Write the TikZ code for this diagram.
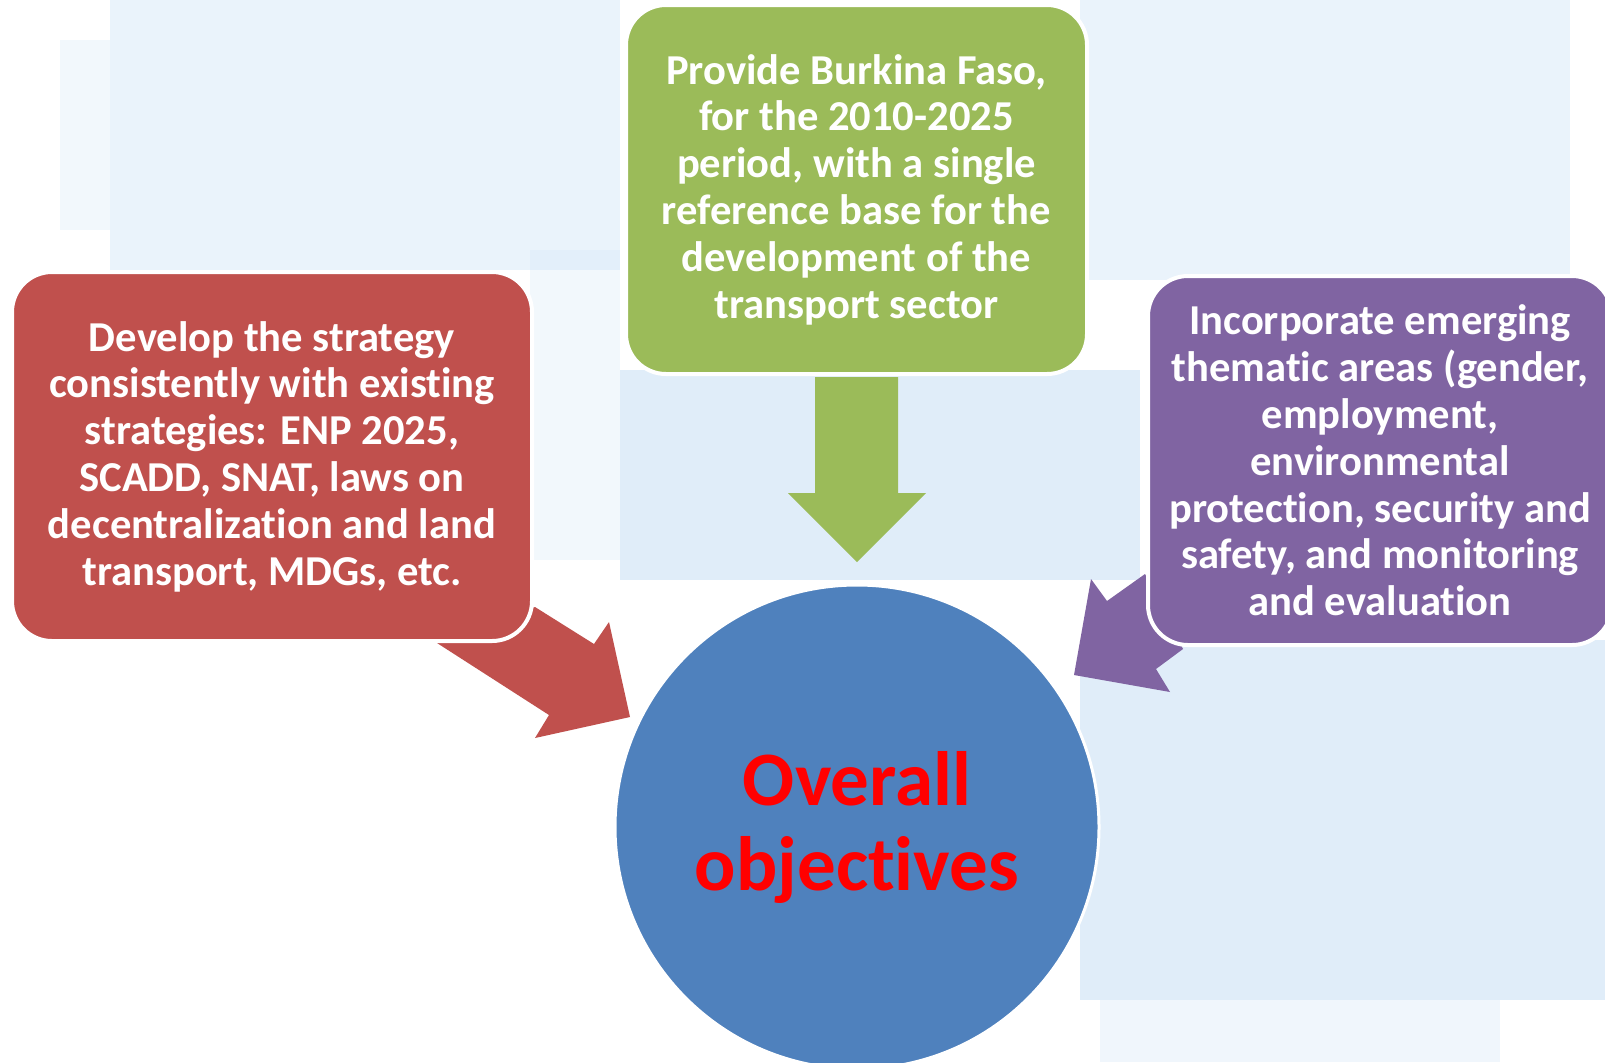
\documentclass[tikz,border=0pt]{standalone}
\usepackage{fontspec}
\setmainfont[Ligatures={NoCommon,NoContextual}]{Carlito}
\definecolor{boxred}{HTML}{C0504D}
\definecolor{boxgreen}{HTML}{9BBB59}
\definecolor{boxpurple}{HTML}{8064A2}
\definecolor{circblue}{HTML}{4F81BD}
\definecolor{bgblue}{HTML}{D6E8F8}
\definecolor{textred}{HTML}{FF0000}
\tikzset{
  bgpatch/.style={fill=bgblue},
  topicbox/.style={rounded corners=20pt, draw=white, line width=2pt,
    minimum width=260pt, minimum height=184.5pt, text=white, align=center,
    font=\bfseries\fontsize{21.3}{23.4}\selectfont, inner sep=0pt},
  objcircle/.style={circle, fill=circblue, draw=white, line width=1.5pt,
    minimum size=242pt, inner sep=0pt, align=center, text=textred,
    font=\bfseries\fontsize{38.5}{42.5}\selectfont},
  blockarrow/.style={draw=none}
}
\begin{document}
\begin{tikzpicture}[x=0.5pt,y=-0.5pt]
\useasboundingbox (0,0) rectangle (1605,1062);
\clip (0,0) rectangle (1605,1062);
\fill[white] (0,0) rectangle (1605,1062);
% soft background patches
\fill[bgpatch, opacity=0.5] (110,0) rectangle (620,270);
\fill[bgpatch, opacity=0.3] (60,40) rectangle (110,230);
\fill[bgpatch, opacity=0.75] (620,370) rectangle (1140,580);
\fill[bgpatch, opacity=0.5] (1080,0) rectangle (1570,280);
\fill[bgpatch, opacity=0.75] (1080,640) rectangle (1605,1000);
\fill[bgpatch, opacity=0.35] (1100,1000) rectangle (1500,1062);
\fill[bgpatch, opacity=0.3] (530,250) rectangle (620,560);
% arrows behind boxes
\fill[boxred, blockarrow] (535,607) -- (594,644) -- (609,622) -- (630,717) -- (535,738) -- (549,715) -- (437,643) -- cycle;
\fill[boxpurple, blockarrow] (1145,574) -- (1107,601) -- (1091,579) -- (1074,675) -- (1170,692) -- (1156,669) -- (1183,649) -- cycle;
% boxes
\node[topicbox, fill=boxred] (red) at (272,456.5) {Develop the strategy\\consistently with existing\\strategies: ENP 2025,\\SCADD, SNAT, laws on\\decentralization and land\\transport, MDGs, etc.};
\node[topicbox, fill=boxgreen, minimum width=230.5pt] (green) at (856.5,189.5) {Provide Burkina Faso,\\for the 2010-2025\\period, with a single\\reference base for the\\development of the\\transport sector};
\node[topicbox, fill=boxpurple, minimum width=232pt] (purple) at (1380,460.5) {Incorporate emerging\\thematic areas (gender,\\employment,\\environmental\\protection, security and\\safety, and monitoring\\and evaluation};
% green arrow
\fill[boxgreen, blockarrow] (815,377) -- (898,377) -- (898,493) -- (926,493) -- (857,562) -- (788,493) -- (815,493) -- cycle;
% circle
\node[objcircle] (obj) at (857,827) {Overall\\objectives};
\end{tikzpicture}
\end{document}
